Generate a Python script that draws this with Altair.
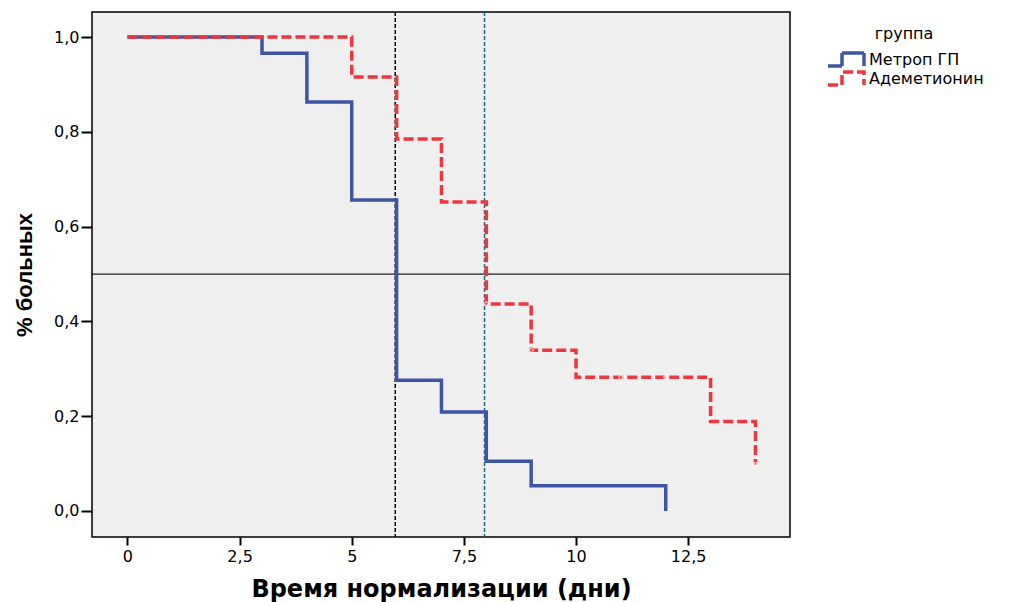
import altair as alt
import pandas as pd

# Kaplan-Meier style curves
groups = ["Метроп ГП", "Адеметионин"]
blue_t = [0, 3, 4, 5, 6, 7, 8, 9, 12]
blue_s = [1.0, 0.966, 0.863, 0.656, 0.276, 0.209, 0.105, 0.053, 0.0]
red_t = [0, 5, 6, 7, 8, 9, 10, 13, 14]
red_s = [1.0, 0.916, 0.785, 0.652, 0.437, 0.339, 0.282, 0.189, 0.098]
cens_t = [8, 9, 11, 12, 14]
cens_s = [0.437, 0.339, 0.282, 0.282, 0.098]
vlines = [5.97, 7.96]
vline_colors = ["#000000", "#1E6A80"]
hline = [0.5]
x_ticks = [0, 2.5, 5, 7.5, 10, 12.5]
y_ticks = [0, 0.2, 0.4, 0.6, 0.8, 1.0]

curves = pd.DataFrame(
    {"t": blue_t + red_t, "s": blue_s + red_s,
     "g": [groups[0]] * len(blue_t) + [groups[1]] * len(red_t),
     "o": list(range(len(blue_t))) + list(range(len(red_t)))}
)
cens = pd.DataFrame({"t": cens_t, "s": cens_s})
vdf = pd.DataFrame({"x": vlines, "c": vline_colors})
hdf = pd.DataFrame({"y": hline})

xs = alt.Scale(domain=[-0.79, 14.77], nice=False, zero=False)
ys = alt.Scale(domain=[-0.055, 1.053], nice=False, zero=False)

xaxis = alt.Axis(values=x_ticks, title="Время нормализации (дни)",
                 labelExpr="replace(toString(datum.value), '.', ',')",
                 grid=False, domain=False, tickSize=8, tickWidth=2, tickColor="black",
                 labelFont="DejaVu Sans", labelFontSize=16, labelColor="black", labelPadding=3,
                 titleFont="DejaVu Sans", titleFontSize=24, titleFontWeight="bold",
                 titleColor="black", titleBaseline="alphabetic", titleY=59)
yaxis = alt.Axis(values=y_ticks, title="% больных",
                 labelExpr="replace(format(datum.value, '.1f'), '.', ',')",
                 grid=False, domain=False, tickSize=11, tickWidth=2, tickColor="black",
                 labelFont="DejaVu Sans", labelFontSize=16, labelColor="black", labelPadding=2,
                 titleFont="Liberation Sans", titleFontSize=22, titleFontWeight="bold",
                 titleColor="black", titleX=-56)

step_path = "M-1,1.3 L1.8,1.3 L1.8,-1.3 L6.2,-1.3 L6.2,1.3"

lines = alt.Chart(curves).mark_line(interpolate="step-after", strokeWidth=3.5).encode(
    x=alt.X("t:Q", scale=xs, axis=xaxis),
    y=alt.Y("s:Q", scale=ys, axis=yaxis),
    order="o:Q",
    color=alt.Color("g:N", scale=alt.Scale(domain=groups, range=["#3C55A5", "#F0353D"]),
                    legend=alt.Legend(title="группа", orient="none", legendX=733, legendY=14,
                                      titleFont="DejaVu Sans", titleFontSize=16,
                                      titleFontWeight="normal", titleColor="black",
                                      titleAnchor="middle", titlePadding=8,
                                      labelFont="DejaVu Sans", labelFontSize=16,
                                      labelColor="black", symbolType=step_path,
                                      symbolSize=100, symbolStrokeWidth=3.5,
                                      clipHeight=19, rowPadding=0, labelOffset=28)),
    strokeDash=alt.StrokeDash("g:N", scale=alt.Scale(domain=groups, range=[[1, 0], [10, 4]]),
                              legend=alt.Legend(title="группа")),
)

cmarks = alt.Chart(cens).mark_point(shape="cross", color="white", filled=False,
                                    size=18, strokeWidth=1).encode(
    x=alt.X("t:Q", scale=xs), y=alt.Y("s:Q", scale=ys))

vr = alt.Chart(vdf).mark_rule(strokeWidth=1.5, strokeDash=[4, 2]).encode(
    x=alt.X("x:Q", scale=xs), color=alt.Color("c:N", scale=None))
hr = alt.Chart(hdf).mark_rule(strokeWidth=1.3, color="#222222").encode(
    y=alt.Y("y:Q", scale=ys))

chart = alt.layer(hr, vr, lines, cmarks).properties(
    width=698, height=525,
    autosize=alt.AutoSizeParams(type="none"),
    padding={"left": 84, "top": 4, "right": 213, "bottom": 65},
).configure_view(fill="#EFEFEF", stroke="black", strokeWidth=1.5)

chart.save("out.html", embed_options={"renderer": "svg", "actions": False})
